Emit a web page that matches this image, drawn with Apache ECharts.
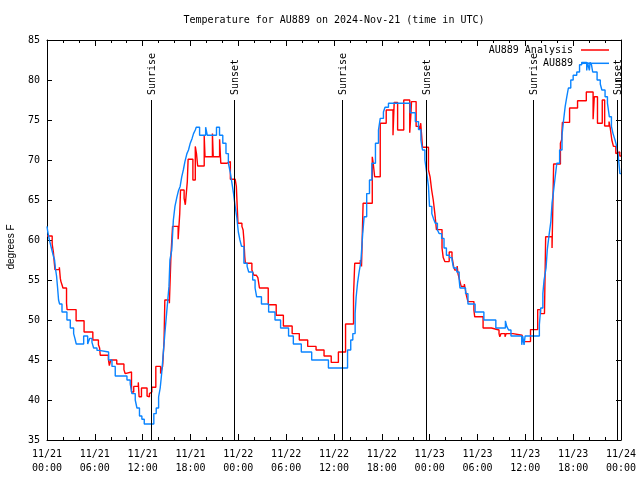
<!DOCTYPE html>
<html>
<head>
<meta charset="utf-8">
<script src="https://cdn.jsdelivr.net/npm/echarts@6/dist/echarts.min.js"></script>
<style>html,body{margin:0;padding:0;background:#fff}#c{width:640px;height:480px}</style>
</head>
<body>
<div id="c"></div>
<script>
// hours since 2024-11-21 00:00 UTC
const redT = [0,0.65,0.8,0.92,1.0,1.55,1.67,1.75,1.88,2.0,2.45,2.52,3.65,4.65,5.75,6.45,6.6,6.68,7.7,7.82,8.0,8.75,9.65,9.8,10.0,10.6,10.88,11.45,11.55,11.85,12.55,12.7,12.85,13.0,13.15,13.65,14.25,14.4,14.5,14.68,14.78,15.35,15.5,15.55,15.75,16.45,16.55,16.65,16.75,17.2,17.35,17.6,17.7,18.3,18.6,18.75,18.9,19.72,19.82,20.75,20.85,21.65,21.8,22.6,23.0,23.6,23.75,23.95,24.45,24.6,24.7,24.8,24.88,25.7,25.95,26.25,26.45,26.65,27.75,28.75,29.65,30.75,31.65,32.7,33.75,34.75,35.65,36.55,37.45,38.45,38.6,39.3,39.45,39.65,40.8,40.92,41.1,41.8,42.55,43.4,43.55,43.98,44.75,45.5,45.65,45.72,46.3,46.75,46.88,47.1,47.85,48.05,48.25,48.45,48.65,48.85,49.55,49.7,49.9,50.45,50.8,50.9,51.0,51.15,51.45,51.55,51.7,51.85,51.95,52.35,52.6,52.8,53.55,53.65,54.7,55.75,56.7,56.8,56.95,57.45,57.6,58.45,59.6,60.65,61.55,61.9,62.4,62.55,63.35,63.55,64.4,64.55,64.65,65.55,66.55,67.65,68.5,68.65,69.05,69.65,69.95,70.5,70.65,70.85,71.05,71.35,71.6,71.85,72];
const redV = [60.5,59.5,58.5,57.1,56.3,56.6,55.2,54.8,54.4,54.0,52.1,51.3,49.9,48.5,47.5,46.9,46.5,45.6,45.1,44.3,45.0,44.5,43.8,43.3,43.5,41.0,41.7,42.2,40.4,41.5,40.5,40.4,40.8,41.0,41.6,44.2,43.3,43.1,44.2,47.3,52.5,52.1,52.3,58.1,61.7,60.1,61.7,63.3,66.25,65.2,64.4,67.3,70.1,67.5,71.7,70.8,69.25,73.0,70.4,73.3,70.4,72.6,69.6,69.8,67.6,67.5,66.7,62.1,61.7,61.25,60.0,58.0,57.1,56.25,55.6,55.8,55.3,54.0,51.9,50.6,49.25,48.3,47.5,46.7,46.25,45.5,44.7,46.0,49.5,53.1,57.1,57.5,56.7,64.6,70.4,69.6,67.9,74.6,76.25,73.1,77.2,73.75,77.5,73.4,75.8,77.3,74.2,73.75,74.6,71.6,68.75,67.9,66.25,65.0,63.3,61.3,59.0,57.8,57.3,58.5,57.9,57.3,56.7,56.25,56.75,55.8,55.2,54.6,54.2,54.5,53.1,52.3,51.25,50.4,49.0,48.75,48.3,47.9,48.3,47.9,48.3,48.1,47.3,48.8,51.3,50.8,51.0,60.4,59.0,69.5,72.1,72.5,74.7,76.5,77.4,78.5,75.1,77.9,74.6,77.5,74.25,74.8,74.0,72.5,71.7,70.8,71.0,70.5,70.5];

const blueT = [0,0.1,0.3,0.55,0.8,0.95,1.05,1.2,1.33,1.45,1.58,1.88,2.5,2.92,3.34,3.5,3.67,4.6,5.1,5.35,5.64,5.85,6.27,6.55,7.73,8.15,8.56,10.03,10.44,10.65,11.07,11.28,11.6,11.9,12.2,13.4,13.7,14.0,14.2,14.3,14.4,14.55,14.68,14.8,15.0,15.15,15.3,15.42,15.65,15.85,16.05,16.3,16.5,16.7,16.9,17.1,17.3,17.55,17.75,17.97,18.2,18.38,18.6,18.72,19.14,19.9,20.1,21.26,21.64,22.05,22.45,22.75,22.98,23.2,23.4,23.6,23.8,24.0,24.2,24.4,24.7,25.1,25.3,25.8,26.1,26.3,26.9,27.8,28.6,29.3,30.3,30.9,31.9,33.2,35.3,37.7,38.1,38.36,38.65,38.78,38.95,39.15,39.37,39.6,39.78,40.1,40.45,40.75,41.2,41.58,41.8,42.2,42.4,42.83,45.55,46.2,46.6,46.9,47.1,47.4,47.64,47.85,47.98,48.27,48.47,48.7,48.97,49.2,49.5,49.8,50.1,50.5,50.8,51.0,51.4,51.7,51.8,52.5,52.8,53.7,54.8,56.3,57.5,57.67,57.9,58.2,59.55,59.67,59.84,59.97,61.76,61.93,62.2,62.35,62.6,62.75,63.0,63.2,63.35,63.5,63.7,63.95,64.3,64.6,64.8,65.0,65.2,65.4,65.7,66.0,66.45,66.8,67.07,67.7,67.8,68.03,68.12,68.3,68.45,69.0,69.4,69.6,70.0,70.3,70.54,70.8,71.0,71.25,71.46,71.65,71.86,72];
const blueV = [61.7,61.0,60.0,59.0,58.0,57.5,56.5,55.5,54.0,52.5,52.0,51.0,50.0,49.0,48.3,47.7,47.0,48.0,47.0,47.7,47.2,46.5,46.2,46.0,45.0,44.2,43.0,42.5,42.0,40.8,40.0,39.0,38.0,37.6,37.0,38.3,39.0,40.4,41.5,42.5,43.5,45.4,47.0,48.5,50.8,52.5,54.2,57.5,58.75,62.5,64.2,65.4,66.2,66.7,67.9,68.75,69.8,70.8,71.25,72.1,72.7,73.3,73.75,74.1,73.1,74.1,73.1,74.1,73.1,72.1,70.8,69.6,68.5,67.1,65.8,64.2,62.9,61.0,60.0,59.2,57.1,56.7,56.0,55.0,54.0,52.9,52.0,51.0,50.0,49.0,48.0,47.0,46.0,45.0,44.0,46.25,47.5,48.3,50.8,52.9,54.6,56.0,57.3,60.8,62.9,65.8,67.5,69.6,72.1,73.75,75.2,76.0,76.6,77.1,75.9,74.8,73.8,72.5,71.25,70.0,68.3,66.7,64.2,63.3,62.7,62.1,61.25,60.8,60.2,59.0,58.1,57.8,57.5,56.5,56.0,55.0,54.0,53.3,52.0,51.0,50.0,49.0,49.9,49.2,48.75,48.0,46.9,48.0,46.9,48.0,49.4,51.5,53.3,55.0,56.5,58.75,60.8,62.3,64.6,65.8,67.5,69.6,71.25,73.1,75.0,76.7,77.9,79.0,80.0,80.6,81.0,81.9,82.2,81.2,82.2,81.2,82.2,81.9,81.0,80.0,79.5,78.75,77.9,77.1,75.4,74.2,73.3,72.5,71.7,70.6,68.3,68.3];

const sunTimes = [13.01, 23.40, 36.96, 47.52, 61.0, 71.47];
const sunLabels = ['Sunrise','Sunset','Sunrise','Sunset','Sunrise','Sunset'];
const sunTop = 77.5;

const tickDates = ['11/21','11/21','11/21','11/21','11/22','11/22','11/22','11/22','11/23','11/23','11/23','11/23','11/24'];
const tickTimes = ['00:00','06:00','12:00','18:00','00:00','06:00','12:00','18:00','00:00','06:00','12:00','18:00','00:00'];

const MONO = 'DejaVu Sans Mono';
const chart = echarts.init(document.getElementById('c'), null, {renderer: 'canvas'});

const xBase = {
  type: 'value', min: 0, max: 72, interval: 6,
  axisLine: {show: true, onZero: false, lineStyle: {color: '#000', width: 1}},
  axisTick: {show: true, inside: true, length: 6, lineStyle: {color: '#000', width: 1}},
  minorTick: {show: true, splitNumber: 3, length: 3, lineStyle: {color: '#000', width: 1}},
  splitLine: {show: false}
};
const yBase = {
  type: 'value', min: 35, max: 85, interval: 5,
  axisLine: {show: true, onZero: false, lineStyle: {color: '#000', width: 1}},
  axisTick: {show: true, inside: true, length: 5, lineStyle: {color: '#000', width: 1}},
  splitLine: {show: false}
};

const legendCommon = {
  orient: 'horizontal', align: 'right', right: 31, padding: 0,
  itemWidth: 28, itemHeight: 1.5, icon: 'rect',
  textStyle: {fontFamily: MONO, fontSize: 10, color: '#000', lineHeight: 12, padding: [0, 3, 0, 0]}
};

chart.setOption({
  animation: false,
  backgroundColor: '#fff',
  title: {
    text: 'Temperature for AU889 on 2024-Nov-21 (time in UTC)',
    left: 334, top: 20, padding: 0, textAlign: 'center', textVerticalAlign: 'middle',
    textStyle: {fontFamily: MONO, fontSize: 10, fontWeight: 'normal', color: '#000'}
  },
  legend: [
    Object.assign({}, legendCommon, {data: ['AU889 Analysis'], top: 44}),
    Object.assign({}, legendCommon, {data: ['AU889'], top: 57.3})
  ],
  grid: {left: 47, right: 19, top: 40, bottom: 40, containLabel: false, outerBoundsMode: 'none'},
  xAxis: [
    Object.assign({}, xBase, {
      position: 'bottom',
      axisLabel: {
        show: true, margin: 7, color: '#000', fontFamily: MONO, fontSize: 10, lineHeight: 14,
        formatter: v => { const i = Math.round(v / 6); return tickDates[i] + '\n' + tickTimes[i]; }
      }
    }),
    Object.assign({}, xBase, {position: 'top', axisLabel: {show: false}})
  ],
  yAxis: [
    Object.assign({}, yBase, {
      position: 'left',
      name: 'degrees F', nameLocation: 'middle', nameGap: 31, nameRotate: 90,
      nameTextStyle: {fontFamily: 'Liberation Sans', fontSize: 10, color: '#000', padding: [0, 14, 0, 0]},
      axisLabel: {show: true, margin: 7, color: '#000', fontFamily: MONO, fontSize: 10}
    }),
    Object.assign({}, yBase, {position: 'right', axisLabel: {show: false}})
  ],
  series: [
    {
      name: 'AU889 Analysis', type: 'line', step: 'end', showSymbol: false, symbol: 'none',
      xAxisIndex: 0, yAxisIndex: 0,
      lineStyle: {color: '#ff0000', width: 1.4}, itemStyle: {color: '#ff0000'},
      data: redT.map((t, i) => [t, redV[i]])
    },
    {
      name: 'AU889', type: 'line', step: 'end', showSymbol: false, symbol: 'none',
      xAxisIndex: 0, yAxisIndex: 0,
      lineStyle: {color: '#0a84ff', width: 1.4}, itemStyle: {color: '#0a84ff'},
      data: blueT.map((t, i) => [t, blueV[i]])
    },
    {
      type: 'custom', xAxisIndex: 0, yAxisIndex: 0, silent: true, z: 5,
      data: sunTimes.map((t, i) => [t, sunTop, i]),
      encode: {x: 0, y: 1},
      renderItem: (params, api) => {
        const t = api.value(0);
        const i = api.value(2);
        const top = api.coord([t, sunTop]);
        const bot = api.coord([t, 35]);
        const x = Math.round(top[0]) + 0.5;
        return {
          type: 'group',
          children: [
            {type: 'line', shape: {x1: x, y1: top[1], x2: x, y2: bot[1]}, style: {stroke: '#000', lineWidth: 1}},
            {type: 'text', x: x + 1, y: top[1] - 5, rotation: Math.PI / 2,
             style: {text: sunLabels[i], fontFamily: MONO, fontSize: 10, fill: '#000', align: 'left', verticalAlign: 'middle'}}
          ]
        };
      }
    }
  ]
});
</script>
</body>
</html>
